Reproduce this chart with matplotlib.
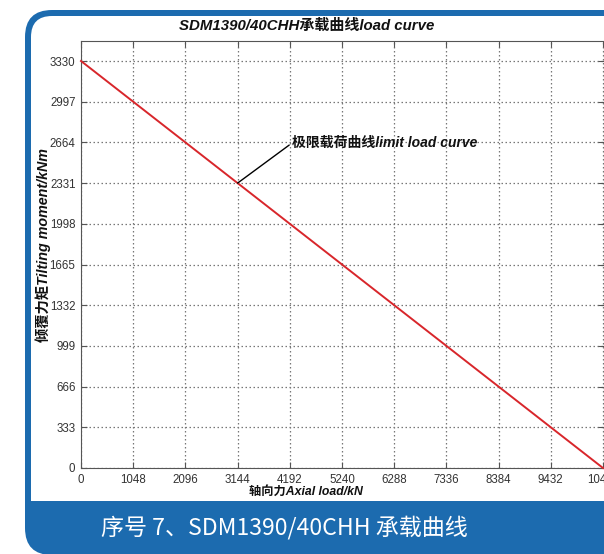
import matplotlib
matplotlib.use("Agg")
import matplotlib.pyplot as plt
from matplotlib.patches import FancyBboxPatch, Rectangle

# ---- data ----
x_ticks = [0, 1048, 2096, 3144, 4192, 5240, 6288, 7336, 8384, 9432, 10480]
y_ticks = [0, 333, 666, 999, 1332, 1665, 1998, 2331, 2664, 2997, 3330]
curve_x = [0, 10480]
curve_y = [3330, 0]
annot_point = (3144, 2331)
annot_text_pos = (4236, 2659)
title = "SDM1390/40CHH承载曲线load curve"
xlabel = "轴向力Axial load/kN"
ylabel = "倾覆力矩Tilting moment/kNm"
annot_label = "极限载荷曲线limit load curve"
caption = "序号 7、SDM1390/40CHH 承载曲线"

W, H = 604, 554
fig = plt.figure(figsize=(W / 100, H / 100), dpi=100)
fig.patch.set_facecolor("white")

blue = "#1c6baf"
t = fig.dpi_scale_trans
def px(x, y):  # image px (top-left origin) -> inches
    return x / 100, (H - y) / 100

# outer blue rounded frame (bottom edge at image bottom)
x0, y0 = px(25, 555)
fig.patches.append(FancyBboxPatch((x0, y0), (700 - 25) / 100, (555 - 10) / 100,
                                  boxstyle="round,pad=0,rounding_size=0.27",
                                  transform=t, facecolor=blue, edgecolor="none", zorder=-10))
# inner white area
x0, y0 = px(31, 530)
fig.patches.append(FancyBboxPatch((x0, y0), (700 - 31) / 100, (530 - 16) / 100,
                                  boxstyle="round,pad=0,rounding_size=0.21",
                                  transform=t, facecolor="white", edgecolor="none", zorder=-9))
# bottom caption band
x0, y0 = px(31, 540)
fig.patches.append(Rectangle((x0, y0), (700 - 31) / 100, (540 - 501) / 100,
                             transform=t, facecolor=blue, edgecolor="none", zorder=-8))

# axes
ax_left, ax_right, ax_top, ax_bottom = 81, 604, 41, 468
ax = fig.add_axes([ax_left / W, 1 - ax_bottom / H, (ax_right - ax_left) / W, (ax_bottom - ax_top) / H])
ax.set_zorder(1)
ax.set_facecolor("white")
ax.set_xlim(0, 10480 * (ax_right - ax_left) / 522)
ax.set_ylim(0, 3330 * (ax_bottom - ax_top) / 407)

ax.plot(curve_x, curve_y, color="#d8262b", lw=1.4, zorder=3, clip_on=False)

ax.set_xticks(x_ticks)
ax.set_xticklabels([str(v) for v in x_ticks])
ax.set_yticks(y_ticks)
ax.set_yticklabels([str(v) for v in y_ticks])
ax.grid(True, linestyle=(0, (1.2, 2.0)), color="#777777", lw=0.9)
ax.tick_params(direction="in", length=4, width=0.8, color="#555555", labelsize=8.3,
               labelcolor="#333333", top=True, right=True, pad=4)
for lab in ax.get_xticklabels() + ax.get_yticklabels():
    lab.set_family(["Liberation Sans", "DejaVu Sans"])
for s in ax.spines.values():
    s.set_color("#555555")
    s.set_linewidth(0.8)

fam = ["Liberation Sans", "Noto Sans CJK SC", "DejaVu Sans"]
fig.text(307 / W, 1 - 26 / H, title, ha="center", va="center", fontsize=10.8,
         fontweight="bold", fontstyle="italic", family=fam, color="#111111")
fig.text(306 / W, 1 - 492 / H, xlabel, ha="center", va="center", fontsize=8.8,
         fontweight="bold", fontstyle="italic", family=fam, color="#111111")
fig.text(43 / W, 1 - 245 / H, ylabel, ha="center", va="center", fontsize=10.3, rotation=90,
         fontweight="bold", fontstyle="italic", family=fam, color="#111111")

ax.annotate(annot_label, xy=annot_point, xytext=annot_text_pos, fontsize=10,
            fontweight="bold", fontstyle="italic", family=fam, color="#111111",
            va="center", ha="left",
            arrowprops=dict(arrowstyle="-", color="black", lw=1.0, shrinkA=0, shrinkB=0,
                            relpos=(0, 0.5)),
            zorder=5)

fig.text(284 / W, 1 - 528 / H, caption, ha="center", va="center", fontsize=16.6,
         family=["Noto Sans CJK SC", "DejaVu Sans"], color="white")

fig.savefig("out.png", dpi=100)
